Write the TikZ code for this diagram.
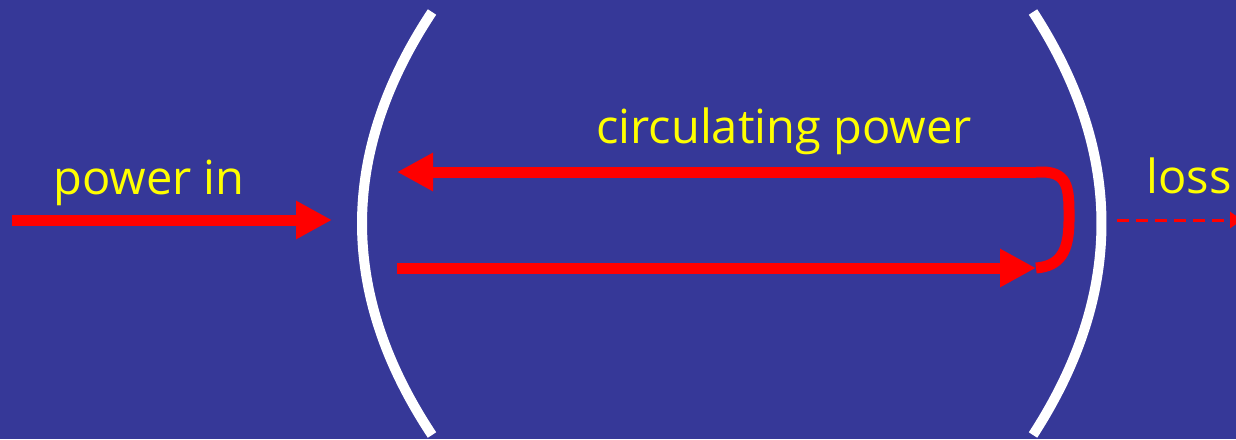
\documentclass[tikz,border=0pt]{standalone}
\usepackage{fontspec}
\setmainfont{Open Sans}
\usepackage{xcolor}
\usetikzlibrary{arrows.meta,positioning,calc}
\definecolor{Bg}{HTML}{363898}
\definecolor{Beam}{HTML}{FF0000}
\definecolor{Label}{HTML}{FFFF00}

\begin{document}
\begin{tikzpicture}[
    x=0.5pt, y=-0.5pt,
    mirror/.style={draw=white, line width=5pt},
    beam/.style={-{Triangle[length=18pt,width=18pt]}, line width=5.5pt, draw=Beam},
    leak/.style={-{Triangle[length=6pt,width=8pt]}, line width=1.5pt, draw=Beam, dash pattern=on 6pt off 3.5pt},
    tag/.style={text=Label, inner sep=0pt, font=\fontsize{23.5pt}{28pt}\selectfont}
  ]
    % background
    \fill[Bg] (0,0) rectangle (1236,439);
    \useasboundingbox (0,0) rectangle (1236,439);

    % mirrors
    \coordinate (m1top) at (432,12);
    \coordinate (m1bot) at (432,435);
    \coordinate (m2top) at (1033,12);
    \coordinate (m2bot) at (1033,435);
    \draw[mirror] (m1top) .. controls (338.7,153) and (338.7,294) .. (m1bot);
    \draw[mirror] (m2top) .. controls (1124.3,153) and (1124.3,294) .. (m2bot);

    % beam points
    \coordinate (src) at (12,220);
    \coordinate (entry) at (332,220);
    \coordinate (back) at (397,172);
    \coordinate (turnA) at (1036,172);
    \coordinate (start) at (397,268);
    \coordinate (turnB) at (1036,268);
    \coordinate (bend) at (1069,220);
    \coordinate (out) at (1117,220);
    \coordinate (sink) at (1242,220);

    \draw[beam] (src) -- (entry);
    \draw[beam] (start) -- (turnB);
    \draw[beam] (turnA) -- (back);
    \draw[line width=5.5pt, draw=Beam]
      (turnA) -- (1042,172) .. controls (1070,172) and (1069,192) .. (bend)
      .. controls (1069,252) and (1060,266) .. (turnB);
    \draw[leak] (out) -- (sink);

    % labels
    \node[tag] (pin) at (149,183) {power in};
    \node[tag] (circ) at (784,131) {circulating power};
    \node[tag] (loss) at (1189,176) {loss};
  \end{tikzpicture}
\end{document}
